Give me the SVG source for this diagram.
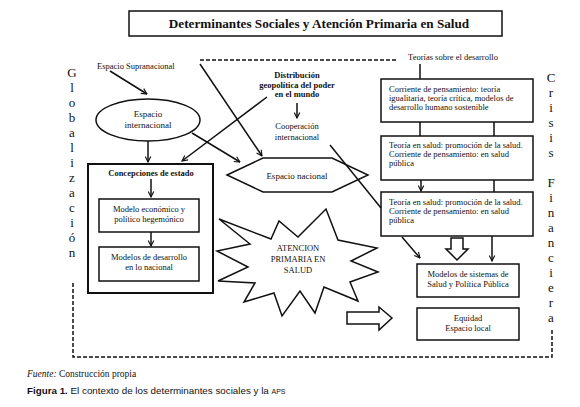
<svg xmlns="http://www.w3.org/2000/svg" width="580" height="407" viewBox="0 0 580 407">
<defs>
<style>
text{font-family:"Liberation Serif","Times New Roman",serif;fill:#111;}
.t{font-size:8.5px;text-anchor:middle;}
.tl{font-size:8.5px;}
.b{font-weight:bold;}
.box{fill:#fff;stroke:#111;stroke-width:1.5;}
.ln{fill:none;stroke:#111;stroke-width:1.5;}
.dash{fill:none;stroke:#111;stroke-width:1.5;stroke-dasharray:4 2;}
.big{font-size:13px;text-anchor:middle;}
</style>
<marker id="ah" viewBox="0 0 10 10" refX="9" refY="5" markerWidth="7" markerHeight="7" markerUnits="userSpaceOnUse" orient="auto">
<path d="M1,1 L9,5 L1,9" fill="none" stroke="#111" stroke-width="1.6"/>
</marker>
</defs>
<rect width="580" height="407" fill="#fff"/>

<g id="title">
<rect class="box" x="129" y="11" width="373" height="25"/>
<text x="319" y="28" class="b" style="font-size:13.2px;text-anchor:middle">Determinantes Sociales y Atención Primaria en Salud</text>
</g>

<g id="globalizacion">
<text class="big" x="72" y="77">G</text><text class="big" x="72" y="92">l</text><text class="big" x="72" y="107">o</text><text class="big" x="72" y="122">b</text><text class="big" x="72" y="137">a</text><text class="big" x="72" y="152">l</text><text class="big" x="72" y="167">i</text><text class="big" x="72" y="182">z</text><text class="big" x="72" y="197">a</text><text class="big" x="72" y="212">c</text><text class="big" x="72" y="227">i</text><text class="big" x="72" y="242">ó</text><text class="big" x="72" y="257">n</text>
</g>

<g id="crisis">
<text class="big" x="551" y="82">C</text><text class="big" x="551" y="97">r</text><text class="big" x="551" y="112">i</text><text class="big" x="551" y="127">s</text><text class="big" x="551" y="142">i</text><text class="big" x="551" y="157">s</text>
<text class="big" x="551" y="187">F</text><text class="big" x="551" y="202">i</text><text class="big" x="551" y="217">n</text><text class="big" x="551" y="232">a</text><text class="big" x="551" y="247">n</text><text class="big" x="551" y="262">c</text><text class="big" x="551" y="277">i</text><text class="big" x="551" y="292">e</text><text class="big" x="551" y="307">r</text><text class="big" x="551" y="322">a</text>
</g>

<g id="supranacional">
<text class="tl" x="97" y="69">Espacio Supranacional</text>
</g>

<g id="espacio-internacional">
<ellipse class="box" cx="148" cy="120" rx="52" ry="21"/>
<text class="t" x="148" y="117" style="font-size:9px">Espacio</text>
<text class="t" x="148" y="128" style="font-size:9px">internacional</text>
</g>

<g id="distribucion">
<text class="t b" x="297" y="78">Distribución</text>
<text class="t b" x="297" y="87.5">geopolítica del poder</text>
<text class="t b" x="297" y="97">en el mundo</text>
</g>

<g id="cooperacion">
<text class="t" x="297" y="129">Cooperación</text>
<text class="t" x="297" y="140">internacional</text>
</g>

<g id="espacio-nacional">
<polygon class="box" points="227,175 263,158 332,158 368,175 332,192 263,192"/>
<text class="t" x="297" y="178.5" style="font-size:9px">Espacio nacional</text>
</g>

<g id="concepciones">
<rect x="88" y="164" width="125" height="129" fill="#fff" stroke="#111" stroke-width="2"/>
<text class="t b" x="151" y="176">Concepciones de estado</text>
</g>

<g id="modelo-economico">
<rect class="box" x="99" y="199" width="100" height="33"/>
<text class="t" x="149" y="212">Modelo económico y</text>
<text class="t" x="149" y="222">político hegemónico</text>
</g>

<g id="modelos-desarrollo">
<rect class="box" x="99" y="247" width="100" height="34"/>
<text class="t" x="149" y="260">Modelos de desarrollo</text>
<text class="t" x="149" y="270">en lo nacional</text>
</g>

<g id="aps">
<polygon class="box" points="219,219 271,239 279,221 298,237 326,209 338,240 377,248 351,261 378,272 350,282 358,301 324,287 315,313 300,291 282,316 274,293 244,302 255,283 218,281 248,267 217,251 250,244"/>
<text class="t" x="298" y="251">ATENCION</text>
<text class="t" x="298" y="262">PRIMARIA EN</text>
<text class="t" x="298" y="273">SALUD</text>
</g>

<g id="teorias">
<text class="t" x="453" y="60">Teorías sobre el desarrollo</text>
</g>

<g id="corriente">
<rect class="box" x="381" y="79" width="152" height="43"/>
<text class="tl" x="389" y="92">Corriente de pensamiento: teoría</text>
<text class="tl" x="389" y="101">igualitaria, teoría crítica, modelos de</text>
<text class="tl" x="389" y="110">desarrollo humano sostenible</text>
</g>

<g id="teoria-salud-1">
<rect class="box" x="381" y="136" width="152" height="44"/>
<text class="tl" x="389" y="148">Teoría en salud: promoción de la salud.</text>
<text class="tl" x="389" y="157">Corriente de pensamiento: en salud</text>
<text class="tl" x="389" y="166">pública</text>
</g>

<g id="teoria-salud-2">
<rect class="box" x="381" y="192" width="152" height="44"/>
<text class="tl" x="389" y="205">Teoría en salud: promoción de la salud.</text>
<text class="tl" x="389" y="214">Corriente de pensamiento: en salud</text>
<text class="tl" x="389" y="223">pública</text>
</g>

<g id="modelos-sistemas">
<rect class="box" x="417" y="264" width="102" height="33"/>
<text class="t" x="468" y="276.5">Modelos de sistemas de</text>
<text class="t" x="468" y="286.5">Salud y Política Pública</text>
</g>

<g id="equidad">
<rect class="box" x="417" y="308" width="102" height="32"/>
<text class="t" x="468" y="321">Equidad</text>
<text class="t" x="468" y="330.5">Espacio local</text>
</g>

<g id="connectors">
<path class="dash" d="M200,60 H398"/>
<path class="dash" d="M73,283 V357 H552 V330"/>
<path class="ln" d="M110,71 L147,94" marker-end="url(#ah)"/>
<path class="ln" d="M148,141 V162" marker-end="url(#ah)"/>
<path class="ln" d="M200,64 L262,156" marker-end="url(#ah)"/>
<path class="ln" d="M267,97 L182,161" marker-end="url(#ah)"/>
<path class="ln" d="M192,133 L240,162" marker-end="url(#ah)"/>
<path class="ln" d="M297,103 V118" stroke-width="2" marker-end="url(#ah)"/>
<path class="ln" d="M330,145 L381,208"/>
<path class="ln" d="M151,179 V197" marker-end="url(#ah)"/>
<path class="ln" d="M151,232 V246" marker-end="url(#ah)"/>
<path class="ln" d="M420,64 V79"/>
<path class="ln" d="M420,122 V136 M494,122 V136"/>
<path class="ln" d="M421,180 V191" marker-end="url(#ah)"/>
<path class="ln" d="M494,180 V192"/>
<path class="ln" d="M402,237 L420,258" marker-end="url(#ah)"/>
<path class="ln" d="M492,236 V261" marker-end="url(#ah)"/>
<path class="box" d="M451,238 H463 V249 H468 L457,260 L446,249 H451 Z"/>
<path class="box" d="M347,312 H379 V307 L392,318 L379,330 V324 H347 Z"/>
</g>

<g id="caption">
<text x="27" y="377" style="font-size:9.5px"><tspan font-style="italic">Fuente:</tspan> Construcción propia</text>
<text x="27" y="394" style="font-family:'Liberation Sans',Arial,sans-serif;font-size:9.8px"><tspan font-weight="bold">Figura 1.</tspan> El contexto de los determinantes sociales y la <tspan style="font-size:7px">APS</tspan></text>
</g>
</svg>
